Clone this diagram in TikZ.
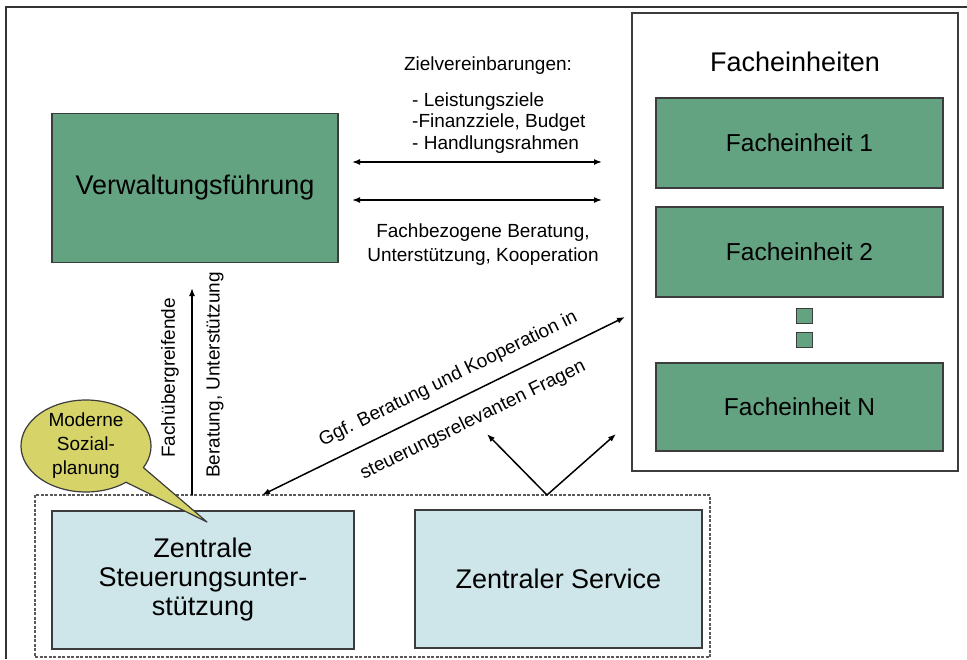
\documentclass[tikz,border=0pt]{standalone}
\usepackage{fontspec}
\setmainfont{Liberation Sans}
\usetikzlibrary{arrows.meta,calc}
\definecolor{fgreen}{RGB}{99,163,129}
\definecolor{lblue}{RGB}{206,230,233}
\definecolor{cyellow}{RGB}{214,211,104}
\definecolor{bord}{RGB}{60,60,60}
\begin{document}
\begin{tikzpicture}[x=1pt,y=-1pt,
  boxs/.style={draw=bord, line width=1.5pt, inner sep=0pt, align=center},
  gbox/.style={boxs, fill=fgreen},
  bbox/.style={boxs, fill=lblue},
  arr/.style={line width=1.5pt, -{Latex[length=8pt,width=6pt]}},
  darr/.style={line width=1.5pt, {Latex[length=8pt,width=6pt]}-{Latex[length=8pt,width=6pt]}},
  stxt/.style={font=\fontsize{19}{24}\selectfont, inner sep=0pt, align=center},
  btxt/.style={font=\fontsize{27}{29}\selectfont},
  mtxt/.style={font=\fontsize{24.5}{28}\selectfont}
]
\useasboundingbox (0,0) rectangle (967,659);
% outer frame
\draw[line width=1.2pt, black!80] (6,659) -- (6,7) -- (967,7);

% Verwaltungsfuehrung
\node[gbox, btxt, minimum width=286pt, minimum height=149pt] (verw) at (195,188) {Verwaltungsführung};

% Facheinheiten
\node[boxs, fill=white, minimum width=326pt, minimum height=458pt] (fach) at (795,242) {};
\node[btxt, inner sep=0pt] (fachT) at (795,62) {Facheinheiten};
\node[gbox, mtxt, minimum width=287pt, minimum height=90pt] (f1) at (799.5,143) {Facheinheit 1};
\node[gbox, mtxt, minimum width=287pt, minimum height=90pt] (f2) at (799.5,252) {Facheinheit 2};
\node[gbox, line width=1pt, minimum width=16pt, minimum height=15pt] (sq1) at (804,315.5) {};
\node[gbox, line width=1pt, minimum width=16pt, minimum height=15pt] (sq2) at (804,339.5) {};
\node[gbox, mtxt, minimum width=287pt, minimum height=88pt] (fN) at (799.5,407) {Facheinheit N};

% group of central units
\node[draw=bord!85, line width=1.2pt, dash pattern=on 3pt off 1.5pt, minimum width=675pt, minimum height=162pt, inner sep=0pt] (grp) at (372.5,576) {};
\node[bbox, btxt, minimum width=302pt, minimum height=138pt] (zsu) at (203,580) {Zentrale\\Steuerungsunter-\\stützung};
\node[bbox, btxt, minimum width=287pt, minimum height=138pt] (zs) at (558.5,579) {Zentraler Service};

% Zielvereinbarungen
\node[stxt] (zv) at (488,66) {Zielvereinbarungen:};
\node[stxt, anchor=west] (zv1) at (412,102) {- Leistungsziele};
\node[stxt, anchor=west] (zv2) at (412,123) {-Finanzziele, Budget};
\node[stxt, anchor=west] (zv3) at (412,145) {- Handlungsrahmen};
\coordinate (a1l) at (352,162);
\coordinate (a1r) at (602,162);
\coordinate (a2l) at (352,200);
\coordinate (a2r) at (602,200);
\draw[darr] (a1l) -- (a1r);
\draw[darr] (a2l) -- (a2r);
\node[stxt] (fb) at (483,245) {Fachbezogene Beratung,\\Unterstützung, Kooperation};

% vertical arrow
\coordinate (vb) at (192,495);
\coordinate (vt) at (192,288);
\draw[arr] (vb) -- (vt);
\node[stxt, rotate=90] (fu) at (170,378) {Fachübergreifende};
\node[stxt, rotate=90] (bu) at (215,375) {Beratung, Unterstützung};

% diagonal arrow
\coordinate (dA) at (262,495);
\coordinate (dB) at (625,317);
\draw[darr] (dA) -- (dB);
\coordinate (m1) at ($(dA)!0.54!(dB)$);
\coordinate (m2) at ($(dA)!0.55!(dB)$);
\node[stxt, rotate=26.1] (g1) at ($(m1)!22pt!90:(dB)$) {Ggf. Beratung und Kooperation in};
\node[stxt, rotate=26.1] (g2) at ($(m2)!26pt!-90:(dB)$) {steuerungsrelevanten Fragen};

% service arrows
\coordinate (vs) at (547,495);
\coordinate (vl) at (487,434);
\coordinate (vr) at (616,434);
\draw[arr] (vs) -- (vl);
\draw[arr] (vs) -- (vr);

% callout
\filldraw[fill=cyellow, draw=bord, line width=1.2pt, line join=round] (207,522) -- (143.4,467.6) arc[start angle=-28, end angle=308, x radius=65pt, y radius=46pt] -- cycle;
\node[stxt] (call) at (86,446) {Moderne\\Sozial-\\planung};
\end{tikzpicture}
\end{document}
